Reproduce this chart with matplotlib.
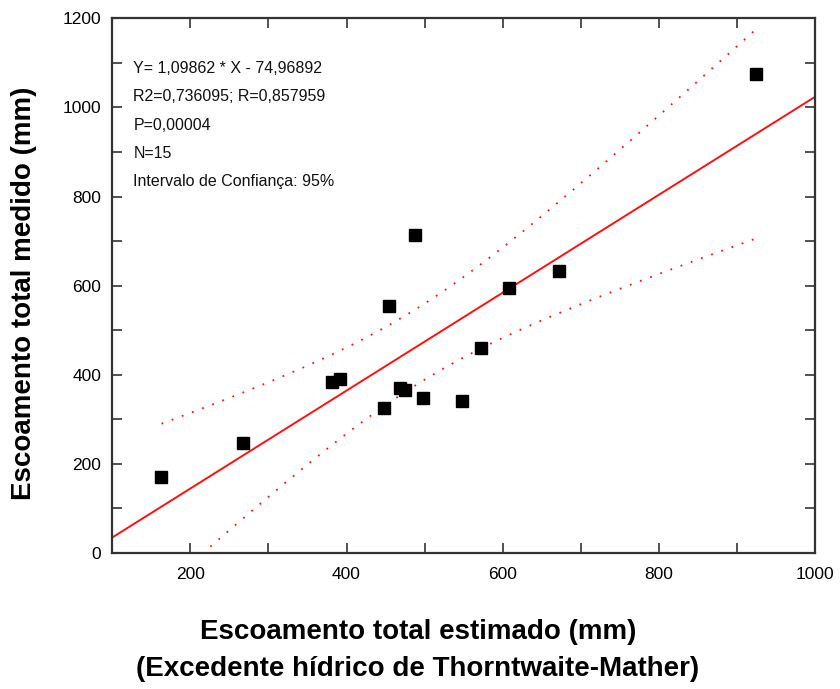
import numpy as np
import matplotlib
matplotlib.use("Agg")
import matplotlib.pyplot as plt
from matplotlib.ticker import MultipleLocator

# Data
estimado = [163, 268, 381, 392, 455, 488, 448, 469, 475, 498, 548, 572, 608, 672, 925]
medido = [171, 247, 384, 391, 554, 713, 326, 370, 366, 348, 341, 459, 594, 634, 1076]

slope = 1.09862
intercept = -74.96892
stats_lines = [
    "Y= 1,09862 * X - 74,96892",
    "R2=0,736095; R=0,857959",
    "P=0,00004",
    "N=15",
    "Intervalo de Confiança: 95%",
]
F_crit = 3.806  # F(0.95; 2, 13), Working-Hotelling band

xlim = (100, 1000)
ylim = (0, 1200)

plt.rcParams['font.family'] = ['Liberation Sans', 'DejaVu Sans']

fig = plt.figure(figsize=(8.4, 6.89), dpi=100)
ax = fig.add_axes([0.1337, 0.1974, 0.8365, 0.776])

x = np.array(estimado, dtype=float)
y = np.array(medido, dtype=float)
n = len(x)

# regression line
xl = np.linspace(xlim[0], xlim[1], 200)
ax.plot(xl, slope * xl + intercept, color='#ff1010', lw=1.4, zorder=2)

# 95% confidence band over the data range
resid = y - (slope * x + intercept)
s = np.sqrt(np.sum(resid ** 2) / (n - 2))
xbar = x.mean()
sxx = np.sum((x - xbar) ** 2)
xc = np.linspace(x.min(), x.max(), 200)
mult = np.sqrt(2 * F_crit)
half = mult * s * np.sqrt(1.0 / n + (xc - xbar) ** 2 / sxx)
yc = slope * xc + intercept
ax.plot(xc, yc + half, color='#ff1010', lw=1.3, ls=(0, (1, 5)), zorder=2)
ax.plot(xc, yc - half, color='#ff1010', lw=1.3, ls=(0, (1, 5)), zorder=2)

# points
ax.plot(x, y, ls='none', marker='s', ms=8, color='black', zorder=3)

ax.set_xlim(*xlim)
ax.set_ylim(*ylim)
ax.xaxis.set_major_locator(MultipleLocator(200))
ax.xaxis.set_minor_locator(MultipleLocator(100))
ax.yaxis.set_major_locator(MultipleLocator(200))
ax.yaxis.set_minor_locator(MultipleLocator(100))
ax.tick_params(which='both', direction='in', top=True, right=True,
               length=7, width=1.2, color='#333333', labelsize=12.5)
ax.tick_params(axis='x', pad=10)
ax.tick_params(axis='y', pad=8)

for sp in ax.spines.values():
    sp.set_color('#333333')
    sp.set_linewidth(1.6)

ax.text(0.03, 0.92, "\n".join(stats_lines), transform=ax.transAxes,
        ha='left', va='top', fontsize=11.5, linespacing=2.1, color='#111111')

fig.text(418 / 840, 1 - 632 / 689, "Escoamento total estimado (mm)",
         ha='center', va='center', fontsize=20, fontweight='bold')
fig.text(418 / 840, 1 - 669 / 689, "(Excedente hídrico de Thorntwaite-Mather)",
         ha='center', va='center', fontsize=20, fontweight='bold')
fig.text(24 / 840, 1 - 293 / 689, "Escoamento total medido (mm)",
         ha='center', va='center', rotation=90, fontsize=20, fontweight='bold')

fig.savefig("out.png", dpi=100, facecolor='white')
